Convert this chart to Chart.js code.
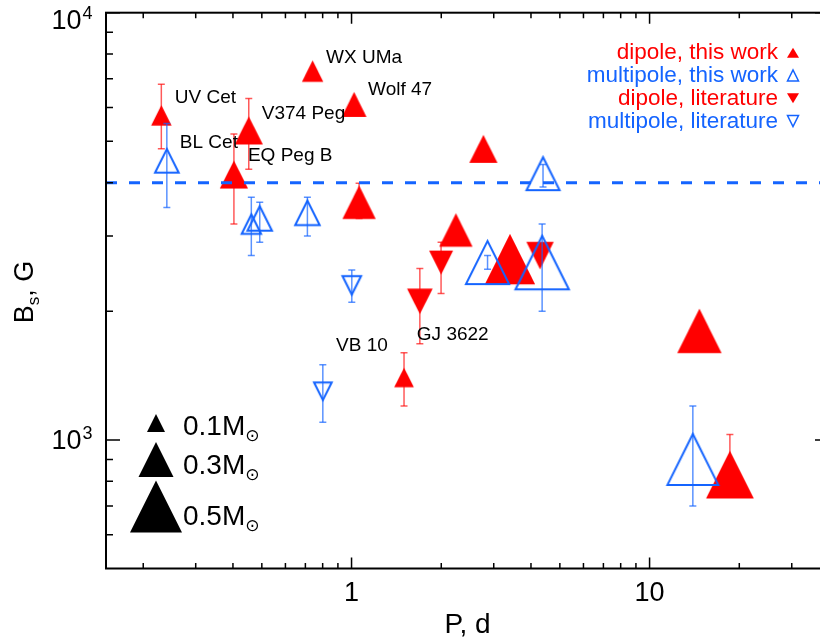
<!DOCTYPE html>
<html>
<head>
<meta charset="utf-8">
<script src="https://cdn.jsdelivr.net/npm/chart.js@4.4.0/dist/chart.umd.min.js"></script>
<style>
  html, body { margin: 0; padding: 0; background: #fff; overflow: hidden; }
  canvas { display: block; }
</style>
</head>
<body>
<canvas id="bfield" width="832" height="642" style="width:832px;height:642px"></canvas>
<script>
// rotation period P (d), field strength Bs (G), error range, stellar mass (Msun)
const dipoleThisP    = [0.23, 0.452, 0.403, 0.74, 1.02, 1.06, 2.24, 2.77, 3.40, 14.7, 18.6, 1.50];
const dipoleThisB    = [5750, 5300, 4180, 7300, 6100, 3600, 3100, 4800, 2650, 1800, 830, 1400];
const dipoleThisLo   = [4800, 4300, 3200, null, null, 3300, null, null, null, null, 780, 1200];
const dipoleThisHi   = [6800, 6300, 5200, null, null, 3990, null, null, null, null, 1030, 1600];
const dipoleThisM    = [0.13, 0.22, 0.22, 0.14, 0.18, 0.28, 0.28, 0.22, 0.48, 0.41, 0.45, 0.12];

const multiThisP     = [0.240, 0.461, 0.492, 0.711, 2.86, 4.36, 4.39, 13.97];
const multiThisB     = [4500, 3200, 3300, 3400, 2600, 2600, 4200, 900];
const multiThisLo    = [3500, 2700, 2900, 3000, 2510, 2000, 3910, 700];
const multiThisHi    = [5500, 3700, 3600, 3700, 2700, 3200, 4410, 1200];
const multiThisM     = [0.19, 0.14, 0.20, 0.20, 0.42, 0.54, 0.30, 0.51];

const dipoleLitP     = [1.695, 1.997, 4.29];
const dipoleLitB     = [2110, 2600, 2700];
const dipoleLitLo    = [1680, 2200, null];
const dipoleLitHi    = [2520, 2900, null];
const dipoleLitM     = [0.19, 0.17, 0.21];

const multiLitP      = [1.002, 0.801];
const multiLitB      = [2300, 1300];
const multiLitLo     = [2100, 1100];
const multiLitHi     = [2500, 1500];
const multiLitM      = [0.13, 0.12];

// star names: [series, index, name]
const starNames = [
  ['dipoleThis', 0, 'UV Cet'], ['dipoleThis', 1, 'V374 Peg'], ['dipoleThis', 2, 'EQ Peg B'],
  ['dipoleThis', 3, 'WX UMa'], ['dipoleThis', 4, 'Wolf 47'], ['dipoleThis', 11, 'VB 10'],
  ['multiThis', 0, 'BL Cet'], ['dipoleLit', 0, 'GJ 3622']
];
// offset of each name from its marker (px)
const nameOffsets = [[13.5, -12], [13, -11], [14, -14], [13.5, -8], [14, -9.5], [-68, -26], [13, -12.5], [-3, 39]];

const legendNames = ['dipole, this work', 'multipole, this work', 'dipole, literature', 'multipole, literature'];
const massKey = [0.1, 0.3, 0.5];
const bThreshold = 4000;

const xRange = [0.15, 40];
const yRange = [500, 10000];
const xMajorTicks = [1, 10];
const xMinorTicks = [0.2, 0.3, 0.4, 0.5, 0.6, 0.7, 0.8, 0.9, 2, 3, 4, 5, 6, 7, 8, 9, 20, 30];
const yMajorTicks = [1000, 10000];
const yMinorTicks = [600, 700, 800, 900, 2000, 3000, 4000, 5000, 6000, 7000, 8000, 9000];

const RED = 'rgb(255,0,0)';
const BLUE = 'rgb(20,100,255)';
const FONT = "'Liberation Sans', Arial, Helvetica, sans-serif";

const symWidth = m => 9.5 + 85 * m;

function tracePath(g, cx, cy, w, h, dir) {
  g.beginPath();
  if (dir > 0) {
    g.moveTo(cx - w / 2, cy + h / 2); g.lineTo(cx + w / 2, cy + h / 2); g.lineTo(cx, cy - h / 2);
  } else {
    g.moveTo(cx - w / 2, cy - h / 2); g.lineTo(cx + w / 2, cy - h / 2); g.lineTo(cx, cy + h / 2);
  }
  g.closePath();
}

const triCache = {};
function triangle(w, dir, filled, color) {
  const key = [w.toFixed(1), dir, filled, color].join('|');
  if (triCache[key]) return triCache[key];
  const pad = 6;
  const size = Math.round(w) + 2 * pad;
  const cv = document.createElement('canvas');
  cv.width = size; cv.height = size;
  const g = cv.getContext('2d');
  if (filled) {
    tracePath(g, size / 2, size / 2, w, w, dir);
    g.fillStyle = color; g.fill();
  } else {
    tracePath(g, size / 2, size / 2, w - 2, w - 2, dir);
    g.strokeStyle = color; g.lineWidth = 2; g.stroke();
  }
  triCache[key] = cv;
  return cv;
}

function points(P, B) {
  return P.map((p, i) => ({ x: p, y: B[i] }));
}
function errorBars(P, lo, hi) {
  const out = [];
  P.forEach((p, i) => {
    if (lo[i] == null) return;
    out.push({ x: p, y: lo[i] }, { x: p, y: hi[i] }, { x: p, y: null });
  });
  return out;
}
function markerSet(label, P, B, M, dir, filled, color, order) {
  return {
    label, order,
    data: points(P, B),
    pointStyle: c => triangle(symWidth(M[c.dataIndex]), dir, filled, color),
    pointRadius: c => symWidth(M[c.dataIndex]) / 2,
    showLine: false
  };
}
function errorSet(P, lo, hi, color) {
  return {
    data: errorBars(P, lo, hi),
    order: 1,
    showLine: true, spanGaps: false,
    borderColor: color, borderWidth: 1.5,
    pointStyle: 'line', pointRadius: 3.5,
    pointBorderColor: color, pointBorderWidth: 1.5
  };
}

const datasets = [
  {
    data: [{ x: xRange[0], y: bThreshold }, { x: xRange[1], y: bThreshold }],
    order: 0, showLine: true, borderColor: BLUE, borderWidth: 3,
    borderDash: [11, 12], pointRadius: 0
  },
  errorSet(multiThisP, multiThisLo, multiThisHi, 'rgba(20,100,255,0.7)'),
  errorSet(multiLitP, multiLitLo, multiLitHi, 'rgba(20,100,255,0.7)'),
  errorSet(dipoleThisP, dipoleThisLo, dipoleThisHi, 'rgba(255,0,0,0.65)'),
  errorSet(dipoleLitP, dipoleLitLo, dipoleLitHi, 'rgba(255,0,0,0.65)'),
  markerSet('multiThis', multiThisP, multiThisB, multiThisM, 1, false, BLUE, 2),
  markerSet('multiLit', multiLitP, multiLitB, multiLitM, -1, false, BLUE, 2),
  markerSet('dipoleLit', dipoleLitP, dipoleLitB, dipoleLitM, -1, true, RED, 3),
  markerSet('dipoleThis', dipoleThisP, dipoleThisB, dipoleThisM, 1, true, RED, 4)
];

// box, inward ticks, y labels, names and the two keys
const decorations = {
  id: 'decorations',
  afterDatasetsDraw(chart) {
    const { ctx, chartArea: a, scales: { x, y } } = chart;
    ctx.save();

    // inward tick marks on all four sides
    ctx.strokeStyle = '#000';
    ctx.lineWidth = 1.5;
    ctx.beginPath();
    const xt = (v, len) => {
      const px = x.getPixelForValue(v);
      ctx.moveTo(px, a.bottom); ctx.lineTo(px, a.bottom - len);
      ctx.moveTo(px, a.top); ctx.lineTo(px, a.top + len);
    };
    const yt = (v, len) => {
      const py = y.getPixelForValue(v);
      ctx.moveTo(a.left, py); ctx.lineTo(a.left + len, py);
      ctx.moveTo(a.right, py); ctx.lineTo(a.right - len, py);
    };
    xMajorTicks.forEach(v => xt(v, 11));
    xMinorTicks.forEach(v => xt(v, 5.5));
    yMajorTicks.forEach(v => yt(v, 14));
    yMinorTicks.forEach(v => yt(v, 7));
    ctx.stroke();

    ctx.lineWidth = 2;
    ctx.strokeRect(a.left, a.top, a.right - a.left, a.bottom - a.top);

    // y tick labels 10^n
    ctx.fillStyle = '#000';
    ctx.textBaseline = 'alphabetic';
    yMajorTicks.forEach(v => {
      const py = y.getPixelForValue(v);
      const base = Math.max(py + 9.5, a.top + 16.6);
      ctx.font = '27px ' + FONT;
      ctx.textAlign = 'right';
      ctx.fillText('10', 81.5, base);
      ctx.font = '18px ' + FONT;
      ctx.textAlign = 'left';
      ctx.fillText(String(Math.round(Math.log10(v))), 82.5, base - 10);
    });

    // y axis title  B_s, G
    ctx.save();
    ctx.translate(33, 292);
    ctx.rotate(-Math.PI / 2);
    ctx.textAlign = 'left';
    ctx.font = '27px ' + FONT;
    const wB = ctx.measureText('B').width;
    const wG = ctx.measureText(', G').width;
    ctx.font = '17px ' + FONT;
    const wS = ctx.measureText('s').width;
    const tx = -(wB + wS + wG) / 2;
    ctx.font = '27px ' + FONT;
    ctx.fillText('B', tx, 0);
    ctx.font = '17px ' + FONT;
    ctx.fillText('s', tx + wB, 6);
    ctx.font = '27px ' + FONT;
    ctx.fillText(', G', tx + wB + wS, 0);
    ctx.restore();

    // star names next to their markers
    ctx.font = '19px ' + FONT;
    ctx.textAlign = 'left';
    starNames.forEach(([series, idx, name], k) => {
      const ds = chart.data.datasets.findIndex(d => d.label === series);
      const el = chart.getDatasetMeta(ds).data[idx];
      ctx.fillText(name, el.x + nameOffsets[k][0], el.y + nameOffsets[k][1]);
    });

    // series key, top right
    const keyStyle = [[RED, 1, true], [BLUE, 1, false], [RED, -1, true], [BLUE, -1, false]];
    ctx.font = '22.5px ' + FONT;
    ctx.textAlign = 'right';
    legendNames.forEach((txt, i) => {
      const base = a.top + 46.5 + i * 22.8;
      const [col, dir, filled] = keyStyle[i];
      ctx.fillStyle = col;
      ctx.fillText(txt, a.right - 51, base);
      tracePath(ctx, a.right - 36, base - 6.5, filled ? 12 : 11, filled ? 10 : 11, dir);
      if (filled) { ctx.fill(); } else { ctx.strokeStyle = col; ctx.lineWidth = 1.5; ctx.stroke(); }
    });

    // mass key, bottom left
    const keyY = [[-145.5, -134], [-109, -95], [-62, -44]];
    ctx.fillStyle = '#000';
    massKey.forEach((m, i) => {
      const w = symWidth(m);
      tracePath(ctx, a.left + 50, a.bottom + keyY[i][0], w, w, 1);
      ctx.fill();
      const base = a.bottom + keyY[i][1];
      ctx.font = '28px ' + FONT;
      ctx.textAlign = 'left';
      const label = m.toFixed(1) + 'M';
      ctx.fillText(label, a.left + 77, base);
      const lw = ctx.measureText(label).width;
      ctx.font = "17px 'DejaVu Sans', sans-serif";
      ctx.fillText('\u2299', a.left + 77 + lw, base + 6);
    });

    ctx.restore();
  }
};

new Chart(document.getElementById('bfield'), {
  type: 'scatter',
  data: { datasets },
  options: {
    responsive: false,
    devicePixelRatio: 1,
    animation: false,
    events: [],
    layout: { autoPadding: false, padding: { left: 106, top: 12.7, right: 3, bottom: 0 } },
    plugins: { legend: { display: false }, tooltip: { enabled: false } },
    scales: {
      x: {
        type: 'logarithmic', min: xRange[0], max: xRange[1],
        grid: { display: false, drawTicks: false },
        border: { display: false },
        afterBuildTicks: s => { s.ticks = xMajorTicks.map(v => ({ value: v })); },
        ticks: {
          autoSkip: false, maxRotation: 0, padding: 9, color: '#000',
          font: { family: FONT, size: 27 },
          callback: v => String(v)
        },
        title: {
          display: true, text: 'P, d', color: '#000',
          font: { family: FONT, size: 28 }, padding: { top: -10.5, bottom: 0 }
        }
      },
      y: { type: 'logarithmic', min: yRange[0], max: yRange[1], display: false }
    }
  },
  plugins: [decorations]
});
</script>
</body>
</html>
